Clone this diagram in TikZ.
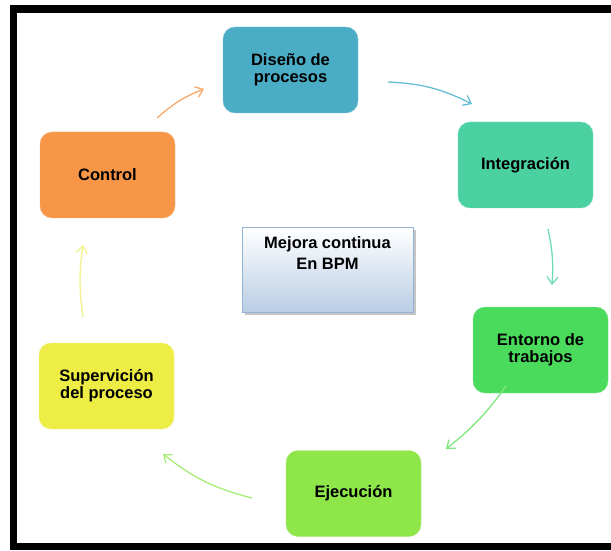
\documentclass[tikz,border=0pt]{standalone}
\usepackage{fontspec}
\setmainfont{Liberation Sans}
\usetikzlibrary{arrows.meta,shadows}

\definecolor{cDis}{HTML}{4BACC6}
\definecolor{cInt}{HTML}{4BD1A1}
\definecolor{cEnt}{HTML}{4ADB5D}
\definecolor{cEje}{HTML}{8FE649}
\definecolor{cSup}{HTML}{EDED46}
\definecolor{cCtl}{HTML}{F79646}
\definecolor{aDis}{HTML}{66BDD6}
\definecolor{aInt}{HTML}{6EDDB6}
\definecolor{aEnt}{HTML}{7FE880}
\definecolor{aEje}{HTML}{A6EE78}
\definecolor{aSup}{HTML}{F2F28C}
\definecolor{aCtl}{HTML}{F9A96A}
\definecolor{cBord}{HTML}{95B3D7}
\definecolor{cShadeB}{HTML}{B9CDE5}

\tikzset{
  stage/.style={rectangle, rounded corners=12pt, minimum width=135pt,
    minimum height=86pt, align=center, inner sep=2pt,
    font=\bfseries\fontsize{16.5}{17}\selectfont, text=black},
  cycarrow/.style={line width=1.3pt,
    -{Straight Barb[length=7pt,width=11pt,line width=1.3pt]}},
  hub/.style={rectangle, draw=cBord, line width=1pt, top color=white,
    bottom color=cShadeB, inner sep=4pt,
    drop shadow={shadow xshift=2.5pt, shadow yshift=-2.5pt, opacity=0.45},
    font=\bfseries\fontsize{16.5}{21}\selectfont}
}

\begin{document}
\begin{tikzpicture}[x=1pt,y=1pt]
  \useasboundingbox (0,0) rectangle (611,550);
  \fill[white] (0,0) rectangle (611,550);

  % black frame (top, left and bottom bars)
  \fill[black] (10,537) rectangle (611,545);
  \fill[black] (10,0) rectangle (17,545);
  \fill[black] (10,0) rectangle (611,7);

  % stages of the cycle
  \node[stage, fill=cDis, draw=cDis!70!white] (dis) at (290.5,480) {Diseño de\\procesos};
  \node[stage, fill=cInt, draw=cInt!70!white] (int) at (525.5,385) {Integración};
  \node[stage, fill=cEnt, draw=cEnt!70!white] (ent) at (540.5,200) {Entorno de\\trabajos};
  \node[stage, fill=cEje, draw=cEje!70!white] (eje) at (353.5,56.5) {Ejecución};
  \node[stage, fill=cSup, draw=cSup!70!white] (sup) at (106.5,164) {Supervición\\del proceso};
  \node[stage, fill=cCtl, draw=cCtl!70!white] (ctl) at (107.5,375) {Control};

  % central box
  \node[hub] (mej) at (327.5,280)
    {\parbox[c][76pt][t]{163pt}{\centering\vspace*{5pt}Mejora continua\\En BPM}};

  % ends of the cycle arrows
  \coordinate (ctlout) at (157,432);
  \coordinate (disin)  at (204,461);
  \coordinate (disout) at (388,468);
  \coordinate (intin)  at (472,446);
  \coordinate (intout) at (548,321);
  \coordinate (entin)  at (552,265);
  \coordinate (entout) at (506,164);
  \coordinate (ejein)  at (446,101);
  \coordinate (ejeout) at (252,52);
  \coordinate (supin)  at (163,96);
  \coordinate (supout) at (83,233);
  \coordinate (ctlin)  at (83,305);

  \draw[cycarrow, aCtl] (ctlout) to[bend left=10] (disin);
  \draw[cycarrow, aDis] (disout) to[bend left=12] (intin);
  \draw[cycarrow, aInt] (intout) to[bend left=8] (entin);
  \draw[cycarrow, aEnt] (entout) to[bend left=8] (ejein);
  \draw[cycarrow, aEje] (ejeout) to[bend left=12] (supin);
  \draw[cycarrow, aSup] (supout) to[bend left=8] (ctlin);
\end{tikzpicture}
\end{document}
